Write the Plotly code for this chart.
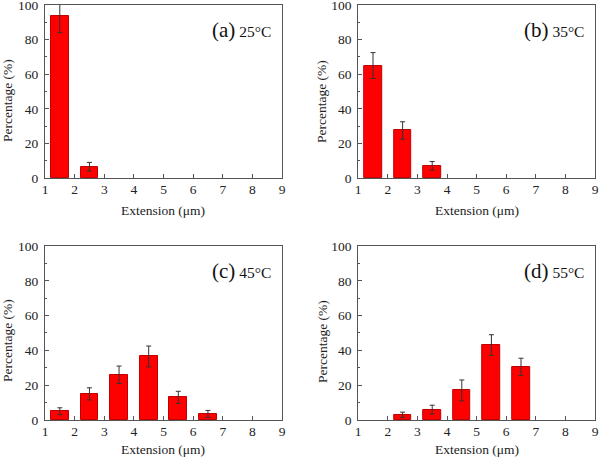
import plotly.graph_objects as go

positions = [1.5, 2.5, 3.5, 4.5, 5.5, 6.5, 7.5, 8.5]

vals_a = [93.5, 6.5, None, None, None, None, None, None]
err_a = [9.5, 2.5, 0, 0, 0, 0, 0, 0]
vals_b = [65, 27.5, 7, None, None, None, None, None]
err_b = [7.5, 5, 2.5, 0, 0, 0, 0, 0]
vals_c = [5, 15, 26, 36.5, 13, 3.5, None, None]
err_c = [2, 3.5, 5, 6, 3.5, 2, 0, 0]
vals_d = [None, 3, 6, 17, 43, 30.5, None, None]
err_d = [0, 1.5, 2.5, 6, 6, 5, 0, 0]

panel_labels = ["(a)", "(b)", "(c)", "(d)"]
temps = ["25°C", "35°C", "45°C", "55°C"]
x_ticks = [1, 2, 3, 4, 5, 6, 7, 8, 9]
y_ticks = [0, 20, 40, 60, 80, 100]
x_title = "Extension (μm)"
y_title = "Percentage (%)"

series = [(vals_a, err_a), (vals_b, err_b), (vals_c, err_c), (vals_d, err_d)]

FONT = "Liberation Serif, Times New Roman, serif"
AX = "#555555"
W, H = 600, 458

fig = go.Figure()

xdoms = [[0.075, 0.47], [0.597, 0.9917], [0.075, 0.47], [0.597, 0.9917]]
ydoms = [[0.6114, 0.989], [0.6114, 0.989], [0.083, 0.4629], [0.083, 0.4629]]
# axis-title positions (paper fractions)
xtitle_y = [1 - 210 / H, 1 - 210 / H, 1 - 449.5 / H, 1 - 449.5 / H]
ytitle_x = [7 / W, 322 / W, 7 / W, 322 / W]
ytitle_y = [1 - 101 / H, 1 - 102 / H, 1 - 341 / H, 1 - 342 / H]

for i, (vals, errs) in enumerate(series):
    n = i + 1
    xs = "x" if n == 1 else f"x{n}"
    ys = "y" if n == 1 else f"y{n}"
    fig.add_trace(go.Bar(
        x=positions, y=vals, width=0.6,
        marker=dict(color="#ff0000", line=dict(color="#c00000", width=1)),
        error_y=dict(type="data", array=errs, color="#333333", thickness=1, width=2.5),
        xaxis=xs, yaxis=ys, showlegend=False,
    ))
    axn = "" if n == 1 else str(n)
    fig.layout[f"xaxis{axn}"] = dict(
        domain=xdoms[i], range=[1, 9], tickvals=x_ticks, ticks="inside", ticklen=4,
        tickcolor=AX, showline=True, linecolor=AX, linewidth=1, mirror=True,
        showgrid=False, zeroline=False, anchor=ys, automargin=False,
        ticklabeloverflow="allow", ticklabelstandoff=-1,
        tickfont=dict(family=FONT, size=13.5, color="#222"),
    )
    fig.layout[f"yaxis{axn}"] = dict(
        domain=ydoms[i], range=[0, 100], tickvals=y_ticks, ticks="inside", ticklen=4,
        tickcolor=AX, showline=True, linecolor=AX, linewidth=1, mirror=True,
        showgrid=False, zeroline=False, anchor=xs, automargin=False,
        ticklabeloverflow="allow", ticklabelstandoff=3,
        minor=dict(tickvals=[10, 30, 50, 70, 90], ticks="inside", ticklen=2, tickcolor=AX),
        tickfont=dict(family=FONT, size=13.5, color="#222"),
    )
    fig.add_annotation(
        x=sum(xdoms[i]) / 2, y=xtitle_y[i], xref="paper", yref="paper",
        xanchor="center", yanchor="middle", text=x_title, showarrow=False,
        font=dict(family=FONT, size=13.5, color="#222"),
    )
    fig.add_annotation(
        x=ytitle_x[i], y=ytitle_y[i], xref="paper", yref="paper",
        xanchor="center", yanchor="middle", text=y_title, textangle=-90, showarrow=False,
        font=dict(family=FONT, size=13.5, color="#222"),
    )
    fig.add_annotation(
        x=8.68, y=85.5, xref=xs, yref=ys, xanchor="right", yanchor="middle",
        text=f"<span style='font-size:21px'>{panel_labels[i]}</span><span style='font-size:15.5px'> {temps[i]}</span>",
        showarrow=False, font=dict(family=FONT, color="#111"),
    )

fig.update_layout(
    width=W, height=H, margin=dict(l=0, r=0, t=0, b=0),
    plot_bgcolor="white", paper_bgcolor="white", bargap=0,
)

fig.write_html(
    "out.html",
    config={"displayModeBar": False},
    post_script="document.body.style.margin='0';document.body.style.padding='0';",
)
